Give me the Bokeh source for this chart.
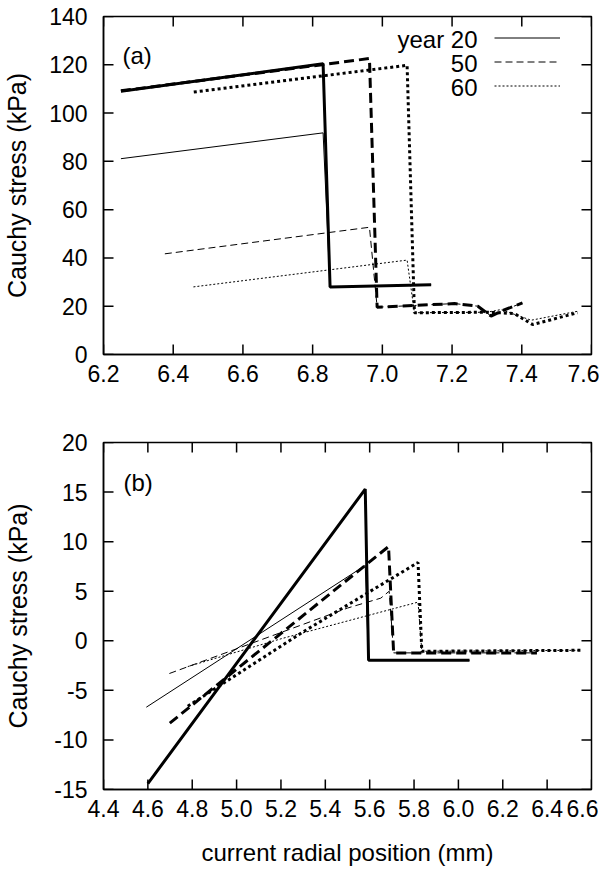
import math
from bokeh.plotting import figure
from bokeh.models import (Range1d, FixedTicker, PrintfTickFormatter,
                          Label, Legend, LegendItem)
from bokeh.layouts import column
from bokeh.embed import file_html
from bokeh.resources import INLINE

# ---------------- data: panel (a) ----------------
a_xrange = (6.2, 7.6)
a_yrange = (0, 140)
a_xticks = [6.2, 6.4, 6.6, 6.8, 7.0, 7.2, 7.4, 7.6]
a_yticks = [0, 20, 40, 60, 80, 100, 120, 140]

a20_thick_x = [6.25, 6.83, 6.85, 7.14]
a20_thick_y = [109.0, 120.4, 28.0, 28.9]
a20_thin_x = [6.25, 6.83, 6.85, 7.14]
a20_thin_y = [81.1, 91.8, 28.0, 28.9]

a50_thick_x = [6.25, 6.963, 6.985, 7.092, 7.207, 7.274, 7.312, 7.34, 7.402]
a50_thick_y = [109.2, 122.6, 19.6, 20.3, 21.1, 20.0, 15.9, 17.9, 21.4]
a50_thin_x = [6.376, 6.963, 6.985, 7.092, 7.207, 7.274, 7.312, 7.34, 7.402]
a50_thin_y = [41.7, 52.7, 19.6, 20.3, 21.1, 20.0, 15.9, 17.9, 21.4]

a60_thick_x = [6.459, 7.071, 7.092, 7.30, 7.378, 7.431, 7.56]
a60_thick_y = [108.7, 119.8, 17.3, 17.5, 17.0, 12.4, 17.3]
a60_thin_x = [6.458, 7.071, 7.092, 7.30, 7.34, 7.427, 7.56]
a60_thin_y = [28.0, 39.1, 17.3, 17.5, 18.6, 14.2, 17.9]

# ---------------- data: panel (b) ----------------
b_xrange = (4.4, 6.6)
b_yrange = (-15, 20)
b_xticks = [4.4, 4.6, 4.8, 5.0, 5.2, 5.4, 5.6, 5.8, 6.0, 6.2, 6.4, 6.6]
b_yticks = [-15, -10, -5, 0, 5, 10, 15, 20]

b20_thick_x = [4.60, 5.58, 5.595, 6.05]
b20_thick_y = [-14.4, 15.3, -1.97, -1.97]
b20_thin_x = [4.593, 5.58, 5.595, 6.05]
b20_thin_y = [-6.7, 7.6, -1.97, -1.97]

b50_thick_x = [4.699, 5.685, 5.708, 6.354]
b50_thick_y = [-8.3, 9.5, -1.22, -1.22]
b50_thin_x = [4.697, 5.5, 5.65, 5.688, 5.708, 6.354]
b50_thin_y = [-3.3, 3.3, 4.3, 5.0, -1.22, -1.22]

b60_thick_x = [4.78, 5.3, 5.818, 5.835, 6.55]
b60_thick_y = [-6.6, 0.9, 7.9, -1.06, -0.96]
b60_thin_x = [4.78, 5.2, 5.5, 5.818, 5.835, 6.55]
b60_thin_y = [-2.6, 0.2, 2.0, 3.9, -1.06, -0.96]

legend_labels = ["year 20", "50", "60"]

# ---------------- styling ----------------
FONT = "Liberation Sans"
TICK_FS = "23px"
LABEL_FS = "24px"
YLABEL_FS = "25px"
THICK = 3
THIN = 1
DASH_THICK = "10 5"
DASH_THIN = "7 4"
DOT_THICK = "3 3"
DOT_THIN = "2 2"
TICK_LEN = 20  # marker length; half of it is visible inside the frame


def style(p, xr, yr, xticks, yticks, ylabel, xlabel=None, ylab_standoff=6):
    p.grid.visible = False
    p.outline_line_color = "black"
    p.outline_line_width = 1.5
    p.background_fill_color = "white"
    p.border_fill_color = "white"
    for ax, ticks in ((p.xaxis[0], xticks), (p.yaxis[0], yticks)):
        ax.ticker = FixedTicker(ticks=ticks)
        ax.major_tick_in = 0
        ax.major_tick_out = 0
        ax.minor_tick_line_color = None
        ax.axis_line_width = 1.5
        ax.major_label_text_font = FONT
        ax.major_label_text_font_size = TICK_FS
        ax.major_label_text_color = "black"
        ax.axis_label_text_font = FONT
        ax.axis_label_text_font_size = LABEL_FS
        ax.axis_label_text_font_style = "normal"
        ax.axis_label_text_color = "black"
    p.yaxis[0].axis_label_text_font_size = YLABEL_FS
    p.xaxis[0].formatter = PrintfTickFormatter(format="%.1f")
    p.yaxis[0].formatter = PrintfTickFormatter(format="%d")
    p.xaxis[0].major_label_standoff = 10
    p.yaxis[0].major_label_standoff = 16
    p.yaxis[0].axis_label = ylabel
    p.yaxis[0].axis_label_standoff = ylab_standoff
    if xlabel:
        p.xaxis[0].axis_label = xlabel
        p.xaxis[0].axis_label_standoff = 19
    # inward tick marks on all four sides (half of each dash is clipped by the frame)
    kw = dict(marker="dash", size=TICK_LEN, line_color="black", line_width=1.5)
    p.scatter(xticks, [yr[0]] * len(xticks), angle=math.pi / 2, **kw)
    p.scatter(xticks, [yr[1]] * len(xticks), angle=math.pi / 2, **kw)
    p.scatter([xr[0]] * len(yticks), yticks, **kw)
    p.scatter([xr[1]] * len(yticks), yticks, **kw)


# ---------------- panel (a) ----------------
p1 = figure(frame_width=488, frame_height=338,
            x_range=Range1d(*a_xrange), y_range=Range1d(*a_yrange),
            output_backend="svg", toolbar_location=None,
            min_border_left=94, min_border_right=8,
            min_border_top=16, min_border_bottom=40)
style(p1, a_xrange, a_yrange, a_xticks, a_yticks, "Cauchy stress (kPa)", ylab_standoff=15)

p1.line(a20_thick_x, a20_thick_y, line_color="black", line_width=THICK)
p1.line(a50_thick_x, a50_thick_y, line_color="black", line_width=THICK, line_dash=DASH_THICK)
p1.line(a60_thick_x, a60_thick_y, line_color="black", line_width=THICK, line_dash=DOT_THICK)
ra20 = p1.line(a20_thin_x, a20_thin_y, line_color="black", line_width=THIN)
ra50 = p1.line(a50_thin_x, a50_thin_y, line_color="black", line_width=THIN, line_dash=DASH_THIN)
ra60 = p1.line(a60_thin_x, a60_thin_y, line_color="black", line_width=THIN, line_dash=DOT_THIN)

leg = Legend(items=[LegendItem(label=" ", renderers=[r]) for r in (ra20, ra50, ra60)],
             location=(391, 258), orientation="vertical",
             glyph_width=66, glyph_height=21, spacing=3, padding=0, margin=0,
             label_width=1, label_standoff=0, label_text_font_size="1px",
             background_fill_alpha=0, border_line_color=None)
p1.add_layout(leg, "center")

for i, txt in enumerate(legend_labels):
    p1.add_layout(Label(x=374, y=338 - 23 - 24 * i, x_units="screen", y_units="screen",
                        text=txt, text_align="right", text_baseline="middle",
                        text_font=FONT, text_font_size=LABEL_FS, text_color="black"))

p1.add_layout(Label(x=19, y=338 - 39, x_units="screen", y_units="screen", text="(a)",
                    text_align="left", text_baseline="middle",
                    text_font=FONT, text_font_size=LABEL_FS, text_color="black"))

# ---------------- panel (b) ----------------
p2 = figure(frame_width=488, frame_height=347,
            x_range=Range1d(*b_xrange), y_range=Range1d(*b_yrange),
            output_backend="svg", toolbar_location=None,
            min_border_left=94, min_border_right=8,
            min_border_top=48, min_border_bottom=72)
style(p2, b_xrange, b_yrange, b_xticks, b_yticks, "Cauchy stress (kPa)",
      xlabel="current radial position (mm)", ylab_standoff=19)

p2.line(b20_thick_x, b20_thick_y, line_color="black", line_width=THICK)
p2.line(b50_thick_x, b50_thick_y, line_color="black", line_width=THICK, line_dash=DASH_THICK)
p2.line(b60_thick_x, b60_thick_y, line_color="black", line_width=THICK, line_dash=DOT_THICK)
p2.line(b20_thin_x, b20_thin_y, line_color="black", line_width=THIN)
p2.line(b50_thin_x, b50_thin_y, line_color="black", line_width=THIN, line_dash=DASH_THIN)
p2.line(b60_thin_x, b60_thin_y, line_color="black", line_width=THIN, line_dash=DOT_THIN)

p2.add_layout(Label(x=20, y=347 - 40, x_units="screen", y_units="screen", text="(b)",
                    text_align="left", text_baseline="middle",
                    text_font=FONT, text_font_size=LABEL_FS, text_color="black"))

layout = column(p1, p2, spacing=0)
open("out.html", "w").write(file_html(layout, INLINE))
